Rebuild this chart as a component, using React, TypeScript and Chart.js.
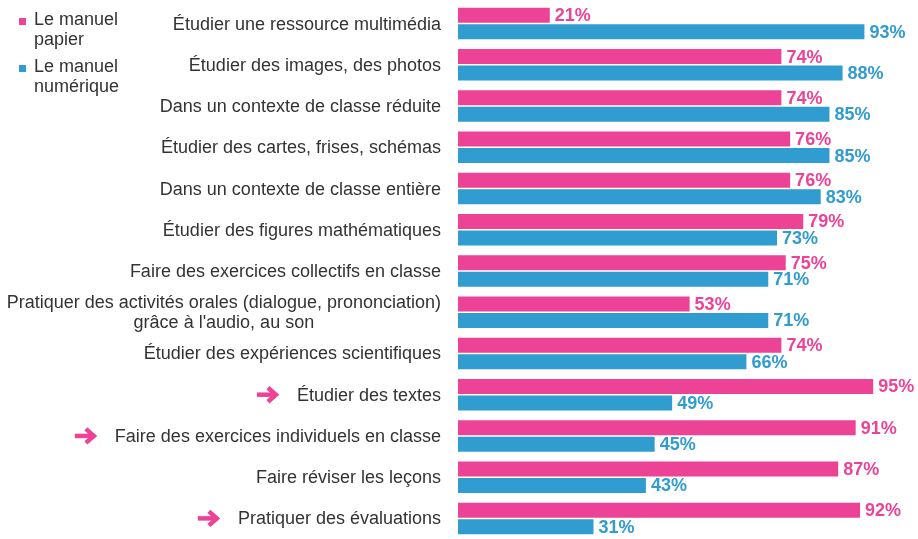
import React, { useEffect, useRef } from "react";
import { Chart, registerables } from "chart.js";

Chart.register(...registerables);

const categories: string[][] = [
  ["Étudier une ressource multimédia"],
  ["Étudier des images, des photos"],
  ["Dans un contexte de classe réduite"],
  ["Étudier des cartes, frises, schémas"],
  ["Dans un contexte de classe entière"],
  ["Étudier des figures mathématiques"],
  ["Faire des exercices collectifs en classe"],
  ["Pratiquer des activités orales (dialogue, prononciation)", "grâce à l'audio, au son"],
  ["Étudier des expériences scientifiques"],
  ["Étudier des textes"],
  ["Faire des exercices individuels en classe"],
  ["Faire réviser les leçons"],
  ["Pratiquer des évaluations"],
];

const highlighted: boolean[] = [
  false, false, false, false, false, false, false, false, false, true, true, false, true,
];

const papier: number[] = [21, 74, 74, 76, 76, 79, 75, 53, 74, 95, 91, 87, 92];
const numerique: number[] = [93, 88, 85, 85, 83, 73, 71, 71, 66, 49, 45, 43, 31];

const seriesNames: string[][] = [
  ["Le manuel", "papier"],
  ["Le manuel", "numérique"],
];

const PINK = "#ED4396";
const BLUE = "#319CD0";
const TEXT = "#333333";
const FONT = '"Liberation Sans", Arial, sans-serif';

const customPlugin = {
  id: "custom",
  afterDatasetsDraw(chart: any) {
    const ctx = chart.ctx;
    ctx.save();
    // value labels
    ctx.font = `bold 18px ${FONT}`;
    ctx.textAlign = "left";
    ctx.textBaseline = "middle";
    chart.data.datasets.forEach((ds: any, di: number) => {
      const meta = chart.getDatasetMeta(di);
      ctx.fillStyle = ds.backgroundColor;
      meta.data.forEach((bar: any, i: number) => {
        ctx.fillText(`${ds.data[i]}%`, bar.x + 5, bar.y + 1);
      });
    });

    // category labels
    const yScale = chart.scales.y;
    const rightEdge = 441;
    ctx.font = `18px ${FONT}`;
    ctx.fillStyle = TEXT;
    ctx.textAlign = "center";
    categories.forEach((lines, i) => {
      const cy = yScale.getPixelForValue(i);
      const widths = lines.map((l) => ctx.measureText(l).width);
      const maxW = Math.max(...widths);
      const cx = rightEdge - maxW / 2;
      const lh = 20;
      const startY = cy - ((lines.length - 1) * lh) / 2;
      lines.forEach((l, li) => {
        ctx.fillText(l, cx, startY + li * lh + 1);
      });
      if (highlighted[i]) {
        const ax1 = rightEdge - maxW - 18;
        const ax0 = ax1 - 22;
        ctx.strokeStyle = PINK;
        ctx.lineWidth = 4.5;
        ctx.lineCap = "butt";
        ctx.lineJoin = "miter";
        ctx.beginPath();
        ctx.moveTo(ax0, cy);
        ctx.lineTo(ax1 - 3, cy);
        ctx.stroke();
        ctx.beginPath();
        ctx.moveTo(ax1 - 11, cy - 7);
        ctx.lineTo(ax1 - 3, cy);
        ctx.lineTo(ax1 - 11, cy + 7);
        ctx.stroke();
      }
    });

    // legend
    const legendColors = [PINK, BLUE];
    const baselines = [25, 72];
    ctx.textAlign = "left";
    ctx.textBaseline = "alphabetic";
    seriesNames.forEach((lines, si) => {
      const b = baselines[si];
      ctx.fillStyle = legendColors[si];
      ctx.fillRect(19, b - 7, 7, 7);
      ctx.fillStyle = TEXT;
      lines.forEach((l, li) => {
        ctx.fillText(l, 34, b + li * 20);
      });
    });
    ctx.restore();
  },
};

export default function App() {
  const canvasRef = useRef<HTMLCanvasElement | null>(null);

  useEffect(() => {
    document.body.style.margin = "0";
    const canvas = canvasRef.current;
    if (!canvas) return;
    const chart = new Chart(canvas, {
      type: "bar",
      data: {
        labels: categories.map((c) => c.join(" ")),
        datasets: [
          {
            label: seriesNames[0].join(" "),
            data: papier,
            backgroundColor: PINK,
            borderWidth: 0,
            categoryPercentage: 0.8,
            barPercentage: 0.91,
          },
          {
            label: seriesNames[1].join(" "),
            data: numerique,
            backgroundColor: BLUE,
            borderWidth: 0,
            categoryPercentage: 0.8,
            barPercentage: 0.91,
          },
        ],
      },
      options: {
        indexAxis: "y",
        animation: false,
        responsive: false,
        maintainAspectRatio: false,
        layout: { padding: { left: 458, right: 23, top: 3, bottom: 0 } },
        plugins: {
          legend: { display: false },
          tooltip: { enabled: false },
        },
        scales: {
          x: { display: false, min: 0, max: 100 },
          y: { display: false },
        },
      },
      plugins: [customPlugin],
    });
    return () => chart.destroy();
  }, []);

  return (
    <div style={{ width: 918, height: 539, position: "relative", background: "#fff" }}>
      <canvas ref={canvasRef} width={918} height={539} style={{ display: "block" }} />
    </div>
  );
}
